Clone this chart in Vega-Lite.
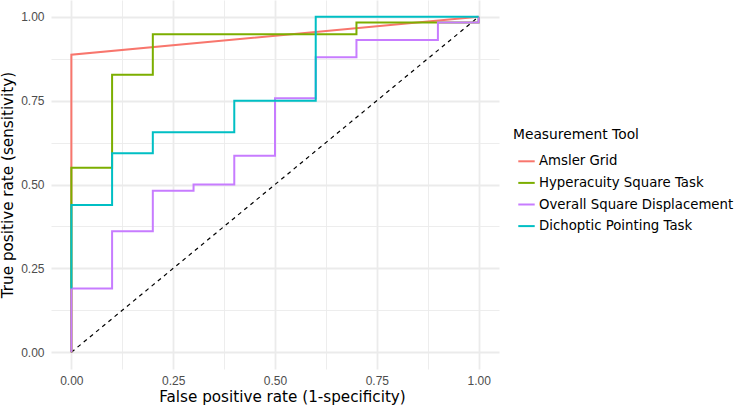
{
  "$schema": "https://vega.github.io/schema/vega-lite/v6.json",
  "width": 448,
  "height": 369,
  "autosize": "none",
  "padding": {"left": 51, "top": 0, "right": 239, "bottom": 39},
  "background": "white",
  "config": {"view": {"stroke": null}},
  "datasets": {
    "roc": [
      {"tool": "Amsler Grid", "step": 0, "fpr": 0, "tpr": 0},
      {"tool": "Amsler Grid", "step": 1, "fpr": 0, "tpr": 0.887},
      {"tool": "Amsler Grid", "step": 2, "fpr": 1, "tpr": 1},
      {"tool": "Hyperacuity Square Task", "step": 0, "fpr": 0, "tpr": 0},
      {"tool": "Hyperacuity Square Task", "step": 1, "fpr": 0, "tpr": 0.55},
      {"tool": "Hyperacuity Square Task", "step": 2, "fpr": 0.1, "tpr": 0.55},
      {"tool": "Hyperacuity Square Task", "step": 3, "fpr": 0.1, "tpr": 0.827},
      {"tool": "Hyperacuity Square Task", "step": 4, "fpr": 0.2, "tpr": 0.827},
      {"tool": "Hyperacuity Square Task", "step": 5, "fpr": 0.2, "tpr": 0.948},
      {"tool": "Hyperacuity Square Task", "step": 6, "fpr": 0.7, "tpr": 0.948},
      {"tool": "Hyperacuity Square Task", "step": 7, "fpr": 0.7, "tpr": 0.983},
      {"tool": "Hyperacuity Square Task", "step": 8, "fpr": 1, "tpr": 0.983},
      {"tool": "Hyperacuity Square Task", "step": 9, "fpr": 1, "tpr": 1},
      {"tool": "Overall Square Displacement", "step": 0, "fpr": 0, "tpr": 0},
      {"tool": "Overall Square Displacement", "step": 1, "fpr": 0, "tpr": 0.19},
      {"tool": "Overall Square Displacement", "step": 2, "fpr": 0.1, "tpr": 0.19},
      {"tool": "Overall Square Displacement", "step": 3, "fpr": 0.1, "tpr": 0.361},
      {"tool": "Overall Square Displacement", "step": 4, "fpr": 0.2, "tpr": 0.361},
      {"tool": "Overall Square Displacement", "step": 5, "fpr": 0.2, "tpr": 0.481},
      {"tool": "Overall Square Displacement", "step": 6, "fpr": 0.3, "tpr": 0.481},
      {"tool": "Overall Square Displacement", "step": 7, "fpr": 0.3, "tpr": 0.5},
      {"tool": "Overall Square Displacement", "step": 8, "fpr": 0.4, "tpr": 0.5},
      {"tool": "Overall Square Displacement", "step": 9, "fpr": 0.4, "tpr": 0.586},
      {"tool": "Overall Square Displacement", "step": 10, "fpr": 0.5, "tpr": 0.586},
      {"tool": "Overall Square Displacement", "step": 11, "fpr": 0.5, "tpr": 0.757},
      {"tool": "Overall Square Displacement", "step": 12, "fpr": 0.6, "tpr": 0.757},
      {"tool": "Overall Square Displacement", "step": 13, "fpr": 0.6, "tpr": 0.879},
      {"tool": "Overall Square Displacement", "step": 14, "fpr": 0.7, "tpr": 0.879},
      {"tool": "Overall Square Displacement", "step": 15, "fpr": 0.7, "tpr": 0.931},
      {"tool": "Overall Square Displacement", "step": 16, "fpr": 0.9, "tpr": 0.931},
      {"tool": "Overall Square Displacement", "step": 17, "fpr": 0.9, "tpr": 0.983},
      {"tool": "Overall Square Displacement", "step": 18, "fpr": 1, "tpr": 0.983},
      {"tool": "Overall Square Displacement", "step": 19, "fpr": 1, "tpr": 1},
      {"tool": "Dichoptic Pointing Task", "step": 0, "fpr": 0, "tpr": 0.19},
      {"tool": "Dichoptic Pointing Task", "step": 1, "fpr": 0, "tpr": 0.439},
      {"tool": "Dichoptic Pointing Task", "step": 2, "fpr": 0.1, "tpr": 0.439},
      {"tool": "Dichoptic Pointing Task", "step": 3, "fpr": 0.1, "tpr": 0.593},
      {"tool": "Dichoptic Pointing Task", "step": 4, "fpr": 0.2, "tpr": 0.593},
      {"tool": "Dichoptic Pointing Task", "step": 5, "fpr": 0.2, "tpr": 0.656},
      {"tool": "Dichoptic Pointing Task", "step": 6, "fpr": 0.4, "tpr": 0.656},
      {"tool": "Dichoptic Pointing Task", "step": 7, "fpr": 0.4, "tpr": 0.75},
      {"tool": "Dichoptic Pointing Task", "step": 8, "fpr": 0.6, "tpr": 0.75},
      {"tool": "Dichoptic Pointing Task", "step": 9, "fpr": 0.6, "tpr": 1},
      {"tool": "Dichoptic Pointing Task", "step": 10, "fpr": 1, "tpr": 1}
    ],
    "diag": [
      {"fpr": 0, "tpr": 0},
      {"fpr": 1, "tpr": 1}
    ]
  },
  "layer": [
    {
      "data": {"name": "diag"},
      "mark": {"type": "line", "color": "black", "strokeWidth": 1.2, "strokeDash": [4, 4]},
      "encoding": {
        "x": {"field": "fpr", "type": "quantitative",
              "scale": {"domain": [-0.05, 1.05], "nice": false, "zero": false},
              "axis": {
                "title": "False positive rate (1-specificity)",
                "values": [0, 0.125, 0.25, 0.375, 0.5, 0.625, 0.75, 0.875, 1],
                "labelExpr": "(datum.value * 4) % 1 !== 0 ? '' : format(datum.value, '.2f')",
                "domain": false, "ticks": false,
                "grid": true,
                "gridColor": "#ebebeb",
                "gridWidth": {"condition": {"test": "(datum.value * 4) % 1 !== 0", "value": 0.9}, "value": 1.8},
                "labelFont": "Liberation Sans", "labelFontSize": 12, "labelColor": "#4d4d4d",
                "labelPadding": 6, "labelOverlap": false,
                "titleFont": "DejaVu Sans", "titleFontSize": 15.2, "titleFontWeight": "normal", "titleColor": "black",
                "titlePadding": 3,
                "titleX": 231
              }},
        "y": {"field": "tpr", "type": "quantitative",
              "scale": {"domain": [-0.05, 1.05], "nice": false, "zero": false},
              "axis": {
                "title": "True positive rate (sensitivity)",
                "values": [0, 0.125, 0.25, 0.375, 0.5, 0.625, 0.75, 0.875, 1],
                "labelExpr": "(datum.value * 4) % 1 !== 0 ? '' : format(datum.value, '.2f')",
                "domain": false, "ticks": false,
                "grid": true,
                "gridColor": "#ebebeb",
                "gridWidth": {"condition": {"test": "(datum.value * 4) % 1 !== 0", "value": 0.9}, "value": 1.8},
                "labelFont": "Liberation Sans", "labelFontSize": 12, "labelColor": "#4d4d4d",
                "labelPadding": 7, "labelOverlap": false,
                "titleFont": "DejaVu Sans", "titleFontSize": 15.2, "titleFontWeight": "normal", "titleColor": "black",
                "titlePadding": 5
              }}
      }
    },
    {
      "data": {"name": "roc"},
      "mark": {"type": "line", "strokeWidth": 2, "interpolate": "linear"},
      "encoding": {
        "x": {"field": "fpr", "type": "quantitative"},
        "y": {"field": "tpr", "type": "quantitative"},
        "order": {"field": "step", "type": "quantitative"},
        "color": {
          "field": "tool", "type": "nominal",
          "scale": {
            "domain": ["Amsler Grid", "Hyperacuity Square Task", "Overall Square Displacement", "Dichoptic Pointing Task"],
            "range": ["#F8766D", "#7CAE00", "#C77CFF", "#00BFC4"]
          },
          "legend": {
            "title": "Measurement Tool",
            "orient": "none",
            "legendX": 462,
            "legendY": 128,
            "symbolType": "stroke",
            "symbolStrokeWidth": 2,
            "symbolSize": 270,
            "symbolOffset": 4,
            "titleFont": "DejaVu Sans", "titleFontSize": 13.8, "titleFontWeight": "normal", "titleColor": "black",
            "titlePadding": 10,
            "labelFont": "DejaVu Sans", "labelFontSize": 13.3, "labelColor": "black",
            "labelLimit": 0,
            "rowPadding": 5.6,
            "labelOffset": 3
          }
        }
      }
    }
  ]
}
